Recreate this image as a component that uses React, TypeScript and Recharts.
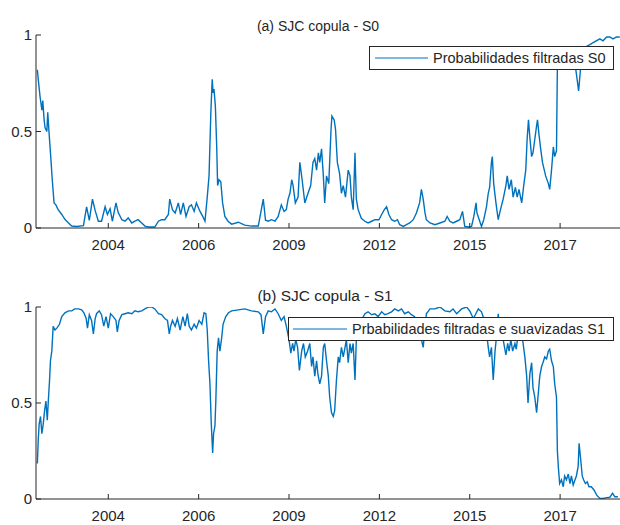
import React from "react";
import { LineChart, Line, XAxis, YAxis } from "recharts";

const FONT = '"Liberation Sans", Arial, Helvetica, sans-serif';
const INK = "#262626";
const BLUE = "#0072BD";

// x axis is the observation index; ticks are labelled with the year
const X_DOMAIN = [40, 1337];
const X_TICKS = [200, 400, 600, 800, 1000, 1200];
const X_LABELS = ["2004", "2006", "2009", "2012", "2015", "2017"];
const Y_TICKS = [0, 0.5, 1];

const S0_T = [
  43, 45, 49, 53, 55, 58, 60, 64, 66, 69, 72, 76, 80, 84, 89, 97, 104, 112, 119, 130, 145, 152, 158, 165, 171, 178, 185, 193, 198, 204,
  209, 217, 222, 230, 237, 244, 252, 259, 266, 274, 281, 289, 303, 311, 318, 325, 333, 336, 342, 348, 355, 360, 366, 372, 379, 384, 390, 395, 403, 409,
  414, 419, 423, 427, 430, 432, 434, 437, 440, 442, 445, 449, 453, 458, 465, 473, 488, 502, 517, 532, 543, 548, 554, 561, 569, 576, 583, 589, 594, 598,
  602, 606, 609, 614, 620, 624, 629, 635, 642, 648, 653, 657, 661, 665, 668, 672, 676, 679, 683, 688, 693, 695, 700, 703, 707, 712, 716, 720, 725, 731,
  735, 738, 742, 746, 749, 753, 760, 768, 775, 783, 790, 799, 805, 811, 816, 821, 827, 834, 840, 845, 853, 860, 867, 875, 882, 889, 893, 897, 901, 904,
  912, 923, 934, 945, 950, 956, 963, 971, 978, 984, 989, 997, 1004, 1009, 1014, 1016, 1021, 1026, 1031, 1037, 1041, 1044, 1048, 1050, 1053, 1058, 1063, 1068, 1074, 1080,
  1083, 1087, 1092, 1096, 1101, 1105, 1109, 1115, 1120, 1124, 1127, 1130, 1133, 1137, 1140, 1144, 1148, 1150, 1153, 1157, 1161, 1165, 1168, 1174, 1177, 1181, 1185, 1188, 1192, 1194,
  1198, 1207, 1218, 1229, 1236, 1241, 1245, 1251, 1258, 1266, 1273, 1280, 1288, 1295, 1303, 1310, 1317, 1325, 1332,
];
const S0_V = [
  0.82, 0.77, 0.68, 0.61, 0.66, 0.56, 0.52, 0.5, 0.6, 0.49, 0.39, 0.25, 0.13, 0.12, 0.095, 0.07, 0.045, 0.026, 0.01, 0.008, 0.012, 0.11, 0.04, 0.15, 0.09, 0.035, 0.035, 0.11, 0.07, 0.1,
  0.035, 0.13, 0.08, 0.043, 0.035, 0.052, 0.026, 0.035, 0.043, 0.026, 0.01, 0.005, 0.005, 0.035, 0.043, 0.043, 0.07, 0.15, 0.095, 0.078, 0.13, 0.07, 0.13, 0.06, 0.11, 0.12, 0.086, 0.13, 0.086, 0.06,
  0.035, 0.16, 0.27, 0.6, 0.77, 0.7, 0.72, 0.63, 0.42, 0.22, 0.25, 0.24, 0.13, 0.06, 0.035, 0.02, 0.03, 0.015, 0.01, 0.01, 0.15, 0.04, 0.035, 0.043, 0.035, 0.06, 0.12, 0.086, 0.095, 0.15,
  0.18, 0.25, 0.22, 0.13, 0.16, 0.34, 0.25, 0.13, 0.18, 0.22, 0.34, 0.36, 0.3, 0.39, 0.34, 0.41, 0.27, 0.13, 0.27, 0.23, 0.51, 0.58, 0.56, 0.51, 0.34, 0.28, 0.18, 0.22, 0.16, 0.3,
  0.27, 0.16, 0.095, 0.39, 0.15, 0.095, 0.05, 0.035, 0.026, 0.035, 0.043, 0.043, 0.07, 0.095, 0.11, 0.07, 0.043, 0.035, 0.043, 0.017, 0.008, 0.017, 0.026, 0.043, 0.078, 0.13, 0.2, 0.15, 0.078, 0.043,
  0.026, 0.017, 0.026, 0.035, 0.06, 0.035, 0.026, 0.035, 0.043, 0.086, 0.008, 0.005, 0.008, 0.06, 0.13, 0.078, 0.043, 0.008, 0.043, 0.11, 0.18, 0.21, 0.34, 0.37, 0.23, 0.13, 0.043, 0.095, 0.15, 0.22,
  0.27, 0.2, 0.25, 0.16, 0.21, 0.16, 0.2, 0.13, 0.23, 0.3, 0.46, 0.56, 0.47, 0.37, 0.39, 0.46, 0.53, 0.56, 0.49, 0.41, 0.34, 0.3, 0.27, 0.23, 0.2, 0.3, 0.42, 0.37, 0.4, 0.85,
  0.88, 0.9, 0.87, 0.92, 0.8, 0.71, 0.82, 0.9, 0.94, 0.95, 0.96, 0.97, 0.98, 0.97, 0.99, 0.99, 0.98, 0.99, 0.99,
];

const S1_T = [
  43, 45, 47, 50, 53, 56, 59, 62, 65, 67, 70, 72, 75, 78, 82, 86, 92, 97, 104, 112, 119, 126, 134, 141, 146, 151, 154, 158, 163, 167,
  171, 174, 180, 185, 190, 195, 200, 205, 211, 217, 220, 224, 230, 237, 244, 252, 259, 266, 274, 281, 289, 296, 303, 311, 318, 325, 331, 335, 338, 342,
  348, 353, 359, 365, 370, 375, 379, 384, 390, 395, 401, 407, 412, 416, 419, 422, 425, 428, 431, 433, 436, 438, 441, 444, 447, 451, 454, 460, 466, 473,
  488, 502, 517, 532, 538, 543, 548, 554, 561, 569, 576, 583, 589, 594, 600, 604, 608, 611, 615, 619, 623, 628, 632, 636, 641, 646, 650, 653, 657, 661,
  664, 668, 672, 676, 679, 683, 687, 690, 694, 698, 701, 705, 709, 712, 716, 720, 724, 727, 731, 735, 738, 742, 746, 749, 753, 760, 768, 775, 783, 790,
  797, 805, 812, 819, 827, 834, 842, 849, 856, 864, 871, 878, 886, 893, 897, 904, 912, 923, 934, 945, 956, 963, 971, 982, 993, 1000, 1008, 1019, 1026, 1031,
  1037, 1041, 1044, 1048, 1052, 1056, 1059, 1063, 1067, 1074, 1080, 1084, 1087, 1091, 1095, 1100, 1103, 1107, 1112, 1117, 1122, 1126, 1129, 1133, 1137, 1140, 1144, 1148, 1151, 1155,
  1159, 1162, 1166, 1170, 1174, 1177, 1181, 1185, 1188, 1192, 1194, 1196, 1199, 1203, 1207, 1210, 1214, 1218, 1222, 1225, 1229, 1233, 1236, 1240, 1242, 1245, 1249, 1252, 1256, 1260,
  1264, 1269, 1275, 1281, 1288, 1295, 1303, 1310, 1316, 1321, 1328,
];
const S1_V = [
  0.185, 0.31, 0.39, 0.43, 0.34, 0.39, 0.46, 0.51, 0.41, 0.5, 0.62, 0.72, 0.77, 0.9, 0.88, 0.89, 0.91, 0.95, 0.97, 0.98, 0.98, 0.99, 0.99, 0.985, 0.97, 0.94, 0.89, 0.96, 0.93, 0.86,
  0.94, 0.965, 0.98, 0.96, 0.9, 0.95, 0.89, 0.965, 0.95, 0.93, 0.87, 0.93, 0.96, 0.965, 0.97, 0.965, 0.98, 0.975, 0.98, 0.99, 1.0, 1.0, 0.99, 0.965, 0.96, 0.94, 0.93, 0.86, 0.9, 0.93,
  0.9, 0.94, 0.88, 0.95, 0.9, 0.965, 0.9, 0.88, 0.91, 0.89, 0.93, 0.91, 0.97, 0.965, 0.88, 0.72, 0.6, 0.39, 0.24, 0.34, 0.38, 0.51, 0.77, 0.84, 0.77, 0.84, 0.91, 0.95, 0.97, 0.98,
  0.985, 0.99, 0.98, 0.975, 0.96, 0.86, 0.95, 0.98, 0.975, 0.99, 0.965, 0.93, 0.95, 0.9, 0.83, 0.76, 0.81, 0.77, 0.83, 0.79, 0.67, 0.77, 0.81, 0.74, 0.77, 0.81, 0.69, 0.74, 0.64, 0.72,
  0.65, 0.6, 0.64, 0.79, 0.81, 0.72, 0.64, 0.53, 0.45, 0.43, 0.46, 0.62, 0.74, 0.71, 0.79, 0.74, 0.79, 0.83, 0.71, 0.81, 0.76, 0.81, 0.62, 0.83, 0.88, 0.93, 0.965, 0.975, 0.96, 0.965,
  0.95, 0.975, 0.96, 0.965, 0.975, 0.99, 0.98, 0.99, 0.965, 0.975, 0.96, 0.95, 0.9, 0.83, 0.79, 0.965, 0.99, 0.99, 1.0, 0.98, 0.975, 0.99, 0.965, 0.99, 1.0, 0.98, 0.94, 0.99, 0.975, 0.94,
  0.87, 0.79, 0.74, 0.79, 0.62, 0.77, 0.84, 0.965, 0.86, 0.83, 0.75, 0.81, 0.77, 0.83, 0.77, 0.81, 0.78, 0.86, 0.9, 0.83, 0.74, 0.64, 0.5, 0.65, 0.71, 0.58, 0.53, 0.45, 0.53, 0.64,
  0.69, 0.71, 0.74, 0.73, 0.77, 0.78, 0.72, 0.69, 0.6, 0.53, 0.25, 0.17, 0.08, 0.1, 0.064, 0.12, 0.1, 0.13, 0.08, 0.12, 0.073, 0.1, 0.12, 0.17, 0.29, 0.22, 0.12, 0.1, 0.08, 0.09,
  0.064, 0.064, 0.047, 0.02, 0.003, 0.003, 0.007, 0.009, 0.03, 0.012, 0.012,
];

const S0 = S0_T.map((t, i) => ({ t, v: S0_V[i] }));
const S1 = S1_T.map((t, i) => ({ t, v: S1_V[i] }));

const LABEL_GAP = 17;
const TICK_LEN = 5;

function BottomTick(props: any) {
  const { x, y, payload } = props;
  const i = X_TICKS.indexOf(payload.value);
  return (
    <g>
      <line x1={x} x2={x} y1={y - LABEL_GAP} y2={y - LABEL_GAP - TICK_LEN} stroke={INK} />
      <text x={x} y={y} dy="0.35em" textAnchor="middle" fill={INK} fontSize={15} fontFamily={FONT}>
        {X_LABELS[i]}
      </text>
    </g>
  );
}

function TopTick(props: any) {
  const { x, y } = props;
  return <line x1={x} x2={x} y1={y} y2={y + TICK_LEN} stroke={INK} />;
}

function LeftTick(props: any) {
  const { x, y, payload } = props;
  return (
    <g>
      <line x1={x + 4} x2={x + 4 + TICK_LEN} y1={y} y2={y} stroke={INK} />
      <text x={x} y={y} dy="0.35em" textAnchor="end" fill={INK} fontSize={15} fontFamily={FONT}>
        {payload.value}
      </text>
    </g>
  );
}

function RightTick(props: any) {
  const { x, y } = props;
  return <line x1={x} x2={x - TICK_LEN} y1={y} y2={y} stroke={INK} />;
}

function Panel({ data, height, top, axisH }: any) {
  return (
    <LineChart width={640} height={height} data={data} margin={{ top, right: 18, left: 0, bottom: 0 }}>
      <XAxis dataKey="t" type="number" domain={X_DOMAIN} ticks={X_TICKS} interval={0} allowDataOverflow
        height={axisH} tickSize={0} tickMargin={LABEL_GAP} tickLine={false}
        axisLine={{ stroke: INK }} tick={<BottomTick />} />
      <XAxis xAxisId="top" orientation="top" type="number" domain={X_DOMAIN} ticks={X_TICKS} interval={0} allowDataOverflow
        height={0} tickSize={0} tickMargin={0} tickLine={false} axisLine={{ stroke: INK }} tick={<TopTick />} />
      <YAxis type="number" domain={[0, 1]} ticks={Y_TICKS} interval={0} allowDataOverflow
        width={36} tickSize={0} tickMargin={4} tickLine={false} axisLine={{ stroke: INK }} tick={<LeftTick />} />
      <YAxis yAxisId="right" orientation="right" type="number" domain={[0, 1]} ticks={Y_TICKS} interval={0} allowDataOverflow
        width={0} tickSize={0} tickMargin={0} tickLine={false} axisLine={{ stroke: INK }} tick={<RightTick />} />
      <Line type="linear" dataKey="v" stroke={BLUE} strokeWidth={1.4} dot={false} isAnimationActive={false} />
    </LineChart>
  );
}

function LegendBox({ x, y, w, lineX1, lineX2, textX, label }: any) {
  return (
    <g>
      <rect x={x + 0.5} y={y + 0.5} width={w} height={23} fill="#FFFFFF" stroke={INK} strokeWidth={1} />
      <line x1={lineX1} x2={lineX2} y1={y + 12} y2={y + 12} stroke={BLUE} strokeWidth={1.2} />
      <text x={textX} y={y + 12} dy="0.35em" fill={INK} fontSize={14.5} fontFamily={FONT}>{label}</text>
    </g>
  );
}

export default function App() {
  return (
    <div style={{ position: "absolute", left: 0, top: 0, width: 620, height: 525, overflow: "hidden", background: "#FFFFFF" }}>
      <div style={{ position: "absolute", left: 0, top: 0 }}>
        <Panel data={S0} height={262} top={35} axisH={34} />
      </div>
      <div style={{ position: "absolute", left: 0, top: 262 }}>
        <Panel data={S1} height={263} top={45} axisH={26} />
      </div>
      <svg width={620} height={525} style={{ position: "absolute", left: 0, top: 0, pointerEvents: "none" }}>
        <text x={318} y={31} textAnchor="middle" fill={INK} fontSize={14} fontFamily={FONT}>(a) SJC copula - S0</text>
        <text x={325} y={301} textAnchor="middle" fill={INK} fontSize={15.5} fontFamily={FONT}>(b) SJC copula - S1</text>
        <LegendBox x={369} y={46} w={244} lineX1={375} lineX2={428} textX={433} label="Probabilidades filtradas S0" />
        <LegendBox x={288} y={317} w={325} lineX1={293} lineX2={347} textX={352} label="Prbabilidades filtradas e suavizadas S1" />
      </svg>
    </div>
  );
}
